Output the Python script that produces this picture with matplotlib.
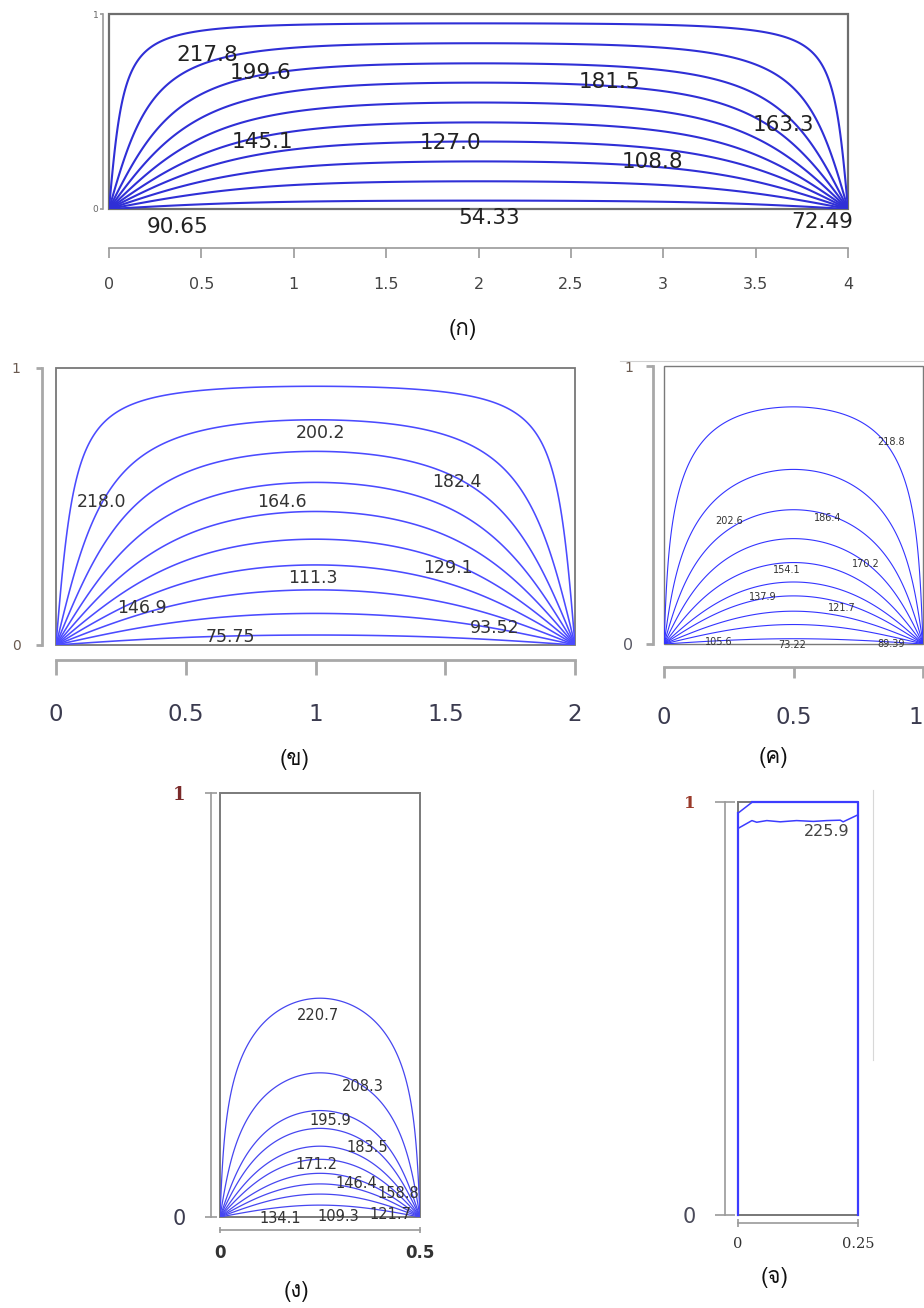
import numpy as np
import matplotlib.pyplot as plt
from matplotlib import font_manager
from matplotlib.ft2font import FT2Font
from matplotlib.patches import Rectangle

# ---- values ----
# contour levels and the height where each one crosses the centre line
levels_a = [54.33, 72.49, 90.65, 108.8, 127.0, 145.1, 163.3, 181.5, 199.6, 217.8]
heights_a = [0.043, 0.142, 0.244, 0.346, 0.444, 0.546, 0.648, 0.747, 0.850, 0.952]
levels_b = [57.97, 75.75, 93.52, 111.3, 129.1, 146.9, 164.6, 182.4, 200.2, 218.0]
heights_b = [0.036, 0.114, 0.199, 0.289, 0.382, 0.482, 0.587, 0.699, 0.813, 0.934]
levels_c = [73.22, 89.39, 105.6, 121.7, 137.9, 154.1, 170.2, 186.4, 202.6, 218.8]
heights_c = [0.019, 0.070, 0.118, 0.173, 0.223, 0.293, 0.379, 0.483, 0.628, 0.853]
levels_d = [109.3, 121.7, 134.1, 146.4, 158.8, 171.2, 183.5, 195.9, 208.3, 220.7]
heights_d = [0.028, 0.054, 0.078, 0.103, 0.136, 0.167, 0.209, 0.251, 0.340, 0.516]

# (จ) only one labelled isotherm plus the edge segments
level_e = 225.9
iso_e_x = [0.0, 0.029, 0.039, 0.060, 0.088, 0.122, 0.157, 0.185, 0.213, 0.219, 0.25]
iso_e_y = [0.936, 0.955, 0.951, 0.955, 0.952, 0.955, 0.953, 0.955, 0.956, 0.952, 0.969]
corner_e_x = [0.0, 0.030]
corner_e_y = [0.973, 1.0]
edge_e_x = [0.0, 0.0]
edge_e_y = [0.0, 0.973]
edge2_e_x = [0.030, 0.25, 0.25]
edge2_e_y = [1.0, 1.0, 0.0]

# label spots (same order as the levels)
lab_a = [(2.06, -0.045), (3.86, -0.065), (0.37, -0.09), (2.94, 0.243), (1.85, 0.337),
         (0.83, 0.345), (3.65, 0.431), (2.71, 0.653), (0.82, 0.696), (0.53, 0.79)]
lab_b = [(1.18, -0.03), (0.671, 0.030), (1.692, 0.060), (0.99, 0.243), (1.512, 0.277),
         (0.331, 0.133), (0.871, 0.518), (1.544, 0.590), (1.018, 0.765), (0.177, 0.518)]
lab_c = [(0.493, -0.004), (0.875, -0.001), (0.210, 0.008), (0.686, 0.128), (0.380, 0.168),
         (0.474, 0.266), (0.779, 0.287), (0.632, 0.452), (0.251, 0.444), (0.875, 0.725)]
lab_d = [(0.296, 0.001), (0.425, 0.007), (0.150, -0.003), (0.342, 0.078), (0.446, 0.056),
         (0.242, 0.123), (0.367, 0.164), (0.275, 0.227), (0.358, 0.307), (0.246, 0.476)]

panel_names = ["(ก)", "(ข)", "(ค)", "(ง)", "(จ)"]


def find_thai_font():
    for fe in font_manager.fontManager.ttflist:
        try:
            if 0x0E01 in FT2Font(fe.fname).get_charmap():
                return fe.name
        except Exception:
            pass
    return 'DejaVu Sans'


thai = find_thai_font()

FW, FH = 924, 1308
PT = 0.72  # points per pixel at dpi 100
fig = plt.figure(figsize=(FW / 100, FH / 100), dpi=100)


def make_axes(l, t, r, b):
    return fig.add_axes([l / FW, 1 - b / FH, (r - l) / FW, (b - t) / FH])


def field(W, nx, ny, hs=1.0, nmax=4001):
    # steady conduction in a W x hs plate, cold bottom, hot sides and top,
    # squeezed onto the unit height of the plot
    x = np.linspace(0, W, nx)
    y = np.linspace(0, 1, ny)
    ys = y * hs
    n = np.arange(1, nmax + 1, 2)
    a = n * np.pi / W
    gy = (np.exp(-np.outer(ys, a)) - np.exp(-np.outer(2 * hs - ys, a))) / (1 - np.exp(-2 * a * hs))
    sx = np.sin(np.outer(a, x)) * (4 / (n * np.pi))[:, None]
    U = gy @ sx
    U[0, 1:-1] = 1.0
    return x, y, U


def draw_contours(ax, W, heights, nx, ny, hs, color, lw):
    x, y, U = field(W, nx, ny, hs)
    uc = U[:, nx // 2]
    ulev = np.sort(np.interp(heights, y, uc))
    ax.contour(x, y, U, levels=ulev, colors=color, linewidths=lw)


def fmt(v):
    return '%.1f' % v if v >= 100 else '%.2f' % v


def frame(ax, W, xticks, xoff, xlen, xpad, xfs, xcol, yoff, ylen, ypad,
          yfs, ycol, box_col, box_lw, spine_col='#9a9a9a', spine_lw=1.2,
          xdir='out', ydir='out', xweight='normal', xfamily='DejaVu Sans'):
    ax.set_xlim(0, W)
    ax.set_ylim(0, 1)
    ax.add_patch(Rectangle((0, 0), 1, 1, transform=ax.transAxes, fill=False,
                           ec=box_col, lw=box_lw, zorder=1, clip_on=False))
    for s in ['top', 'right']:
        ax.spines[s].set_visible(False)
    ax.spines['bottom'].set_position(('outward', xoff * PT))
    ax.spines['left'].set_position(('outward', yoff * PT))
    for s in ['bottom', 'left']:
        ax.spines[s].set_color(spine_col)
        ax.spines[s].set_linewidth(spine_lw)
    ax.set_xticks(xticks)
    ax.set_xticklabels(['%g' % v for v in xticks])
    ax.set_yticks([0, 1])
    ax.set_yticklabels(['0', '1'])
    ax.tick_params(axis='x', direction=xdir, length=xlen * PT, pad=xpad,
                   labelsize=xfs, labelcolor=xcol, color=spine_col, width=spine_lw)
    ax.tick_params(axis='y', direction=ydir, length=ylen * PT, pad=ypad,
                   color=spine_col, width=spine_lw)
    for t in ax.get_xticklabels():
        t.set_fontweight(xweight)
        t.set_family(xfamily)
    for t, fs, c in zip(ax.get_yticklabels(), yfs, ycol):
        t.set_fontsize(fs)
        t.set_color(c)


def put_labels(ax, levels, spots, fs, color='#333333', clip_first=False):
    for i, (v, (x, y)) in enumerate(zip(levels, spots)):
        ax.text(x, y, fmt(v), ha='center', va='center', fontsize=fs,
                color=color, clip_on=(clip_first and i == 0), zorder=5)


# ---------------- (ก) ----------------
ax = make_axes(109, 14, 848, 209)
draw_contours(ax, 4, heights_a, 801, 401, 1.3, '#2f2fd6', 1.5)
frame(ax, 4, np.arange(0, 4.01, 0.5), 39, 10, 14, 11.5, '#444444',
      6, 3, 1, [6.5, 6.5], ['#666666', '#666666'], '#6e6e6e', 1.6)
put_labels(ax, levels_a, lab_a, 15.5, '#222222')

# ---------------- (ข) ----------------
ax = make_axes(56, 368, 575, 645)
draw_contours(ax, 2, heights_b, 601, 401, 1.05, '#4b4bff', 1.15)
frame(ax, 2, [0, 0.5, 1, 1.5, 2], 15, 15, 20, 16.5, '#3b3b4f',
      14, 6, 11, [10, 10], ['#6a5a50', '#6a5a50'], '#777777', 1.3,
      spine_col='#a8a8a8', spine_lw=2.0)
put_labels(ax, levels_b, lab_b, 12.5, '#333333', clip_first=True)

# ---------------- (ค) ----------------
ax = make_axes(664, 366, 923, 644)
draw_contours(ax, 1, heights_c, 401, 401, 1.5, '#3434ff', 0.8)
frame(ax, 1, [0, 0.5, 1], 23, 11, 20, 16.5, '#3b3b4f',
      11, 7, 9, [11.5, 10], ['#5a5a66', '#6a5a50'], '#7a7a7a', 1.0,
      spine_col='#a8a8a8', spine_lw=2.0)
ax.get_xticklabels()[-1].set_horizontalalignment('right')
put_labels(ax, levels_c, lab_c, 7, '#333333')
fig.add_artist(plt.Line2D([620 / FW, 1.0], [1 - 361 / FH, 1 - 361 / FH],
                          color='#d0d0d0', lw=0.8))

# ---------------- (ง) ----------------
ax = make_axes(220, 793, 420, 1217)
draw_contours(ax, 0.5, heights_d, 301, 801, 1.25, '#4646f0', 0.9)
frame(ax, 0.5, [0, 0.5], 13, 6, 8, 12, '#333333',
      9, 12, 14, [15, 13], ['#3b3b4f', '#7a2a2a'], '#7a7a7a', 1.4,
      xdir='inout', ydir='inout', xweight='bold')
ax.get_yticklabels()[1].set_family('DejaVu Serif')
ax.get_yticklabels()[1].set_fontweight('bold')
put_labels(ax, levels_d, lab_d, 10.5, '#333333')

# ---------------- (จ) ----------------
ax = make_axes(738, 802, 858, 1215)
frame(ax, 0.25, [0, 0.25], 8, 8, 7, 10.5, '#333333',
      13, 20, 14, [15, 12], ['#4a4a5a', '#9a3a2a'], '#777777', 1.4,
      xdir='inout', ydir='inout', xfamily='DejaVu Serif')
ax.get_yticklabels()[1].set_family('DejaVu Serif')
ax.get_yticklabels()[1].set_fontweight('bold')
blue_e = '#3c3cff'
ax.plot(iso_e_x, iso_e_y, color=blue_e, lw=1.1, clip_on=False, zorder=3)
ax.plot(corner_e_x, corner_e_y, color=blue_e, lw=1.1, clip_on=False, zorder=3)
ax.plot(edge_e_x, edge_e_y, color=blue_e, lw=1.6, clip_on=False, zorder=3)
ax.plot(edge2_e_x, edge2_e_y, color=blue_e, lw=1.6, clip_on=False, zorder=3)
ax.text(0.185, 0.928, fmt(level_e), ha='center', va='center', fontsize=11.5,
        color='#444444')
fig.add_artist(plt.Line2D([873 / FW, 873 / FW], [1 - 790 / FH, 1 - 1060 / FH],
                          color='#d8d8d8', lw=0.8))

# ---------------- panel captions ----------------
for name, (px, py) in zip(panel_names, [(463, 330), (295, 760), (773, 758),
                                         (296, 1291), (775, 1277)]):
    fig.text(px / FW, 1 - py / FH, name, ha='center', va='center', fontsize=16,
             family=[thai, 'DejaVu Sans'], color='#111111')

fig.savefig('out.png', dpi=100)
